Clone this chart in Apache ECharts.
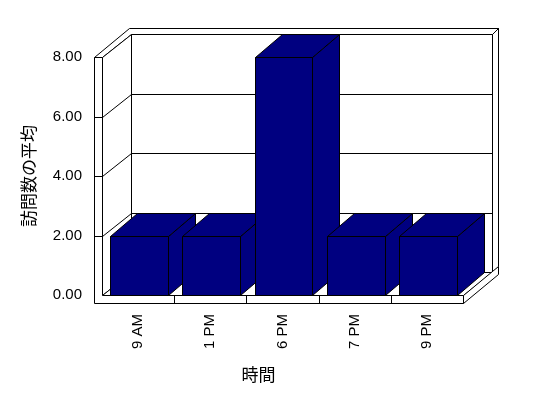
<!DOCTYPE html>
<html><head><meta charset="utf-8">
<script src="https://cdn.jsdelivr.net/npm/echarts@6/dist/echarts.min.js"></script>
<style>html,body{margin:0;padding:0;background:#fff}#c{width:548px;height:398px}</style>
</head><body><div id="c"></div>
<script>
const categories = ['9 AM', '1 PM', '6 PM', '7 PM', '9 PM'];
const visits = [2, 2, 8, 2, 2];
const yTicks = [0, 2, 4, 6, 8];
const xName = '時間';
const yName = '訪問数の平均';

const DX = 29, DY = -23;   // plot depth offset
const EX = 6, EY = -6;     // back wall thickness
const T = 8;               // left wall / floor thickness
const BDX = 27, BDY = -23; // bar depth
const BAR = '#000080';
const FONT = "'Liberation Sans', Arial, sans-serif";

function p(x, y) { return [Math.round(x) + 0.5, Math.round(y) + 0.5]; }
function poly(points, fill, z2) {
  return { type: 'polygon', shape: { points: points }, style: { fill: fill, stroke: '#000', lineWidth: 1 }, z2: z2 || 0 };
}
function line(points, z2) {
  return { type: 'polyline', shape: { points: points }, style: { fill: null, stroke: '#000', lineWidth: 1 }, z2: z2 || 0 };
}

function renderFrame(params, api) {
  const cs = params.coordSys;
  const x0 = cs.x, x1 = cs.x + cs.width, yT = cs.y, yB = cs.y + cs.height;
  const kids = [];
  // back wall front face
  kids.push(poly([p(x0 + DX, yT + DY), p(x1 + DX, yT + DY), p(x1 + DX, yB + DY), p(x0 + DX, yB + DY)], '#fff', 1));
  // top L (left wall top + back wall top)
  kids.push(poly([p(x0 - T, yT), p(x0, yT), p(x0 + DX, yT + DY), p(x1 + DX, yT + DY),
                  p(x1 + DX + EX, yT + DY + EY), p(x0 - T + DX + EX, yT + DY + EY)], '#fff', 2));
  kids.push(line([p(x1 + DX, yT + DY), p(x1 + DX + EX, yT + DY + EY)], 3));
  // back wall right face
  kids.push(poly([p(x1 + DX, yT + DY), p(x1 + DX + EX, yT + DY + EY), p(x1 + DX + EX, yB + DY + EY), p(x1 + DX, yB + DY)], '#fff', 2));
  // left wall inner face
  kids.push(poly([p(x0, yT), p(x0 + DX, yT + DY), p(x0 + DX, yB + DY), p(x0, yB)], '#fff', 2));
  // floor top
  kids.push(poly([p(x0, yB), p(x1, yB), p(x1 + DX, yB + DY), p(x0 + DX, yB + DY)], '#fff', 2));
  // floor right face
  kids.push(poly([p(x1, yB), p(x1 + DX + EX, yB + DY + EY), p(x1 + DX + EX, yB + DY + EY + T), p(x1, yB + T)], '#fff', 3));
  // front L (left wall front + floor front)
  kids.push(poly([p(x0 - T, yT), p(x0, yT), p(x0, yB), p(x1, yB), p(x1, yB + T), p(x0 - T, yB + T)], '#fff', 3));
  // gridlines
  yTicks.forEach(function (v) {
    if (v === yTicks[0] || v === yTicks[yTicks.length - 1]) return;
    const y = api.coord([0, v])[1];
    kids.push(line([p(x0 - T, y), p(x0, y), p(x0 + DX, y + DY), p(x1 + DX, y + DY)], 4));
  });
  // category dividers on floor front
  const bw = api.size([1, 0])[0];
  for (let i = 1; i < categories.length; i++) {
    const x = api.coord([i, 0])[0] - bw / 2;
    kids.push(line([p(x, yB), p(x, yB + T)], 4));
  }
  return { type: 'group', children: kids };
}

function renderBar(params, api) {
  const c = api.coord([api.value(0), api.value(1)]);
  const base = api.coord([api.value(0), 0]);
  const w = api.size([1, 0])[0] * 0.8;
  const l = c[0] - w / 2 + 1, r = l + w, t = c[1], b = base[1];
  const z = params.dataIndex * 3;
  return {
    type: 'group',
    children: [
      poly([p(r, b), p(r, t), p(r + BDX, t + BDY), p(r + BDX, b + BDY)], BAR, z + 1),
      poly([p(l, t), p(l + BDX, t + BDY), p(r + BDX, t + BDY), p(r, t)], BAR, z + 2),
      poly([p(l, t), p(r, t), p(r, b), p(l, b)], BAR, z + 3)
    ]
  };
}

const chart = echarts.init(document.getElementById('c'), null, { renderer: 'canvas' });
chart.setOption({
  backgroundColor: '#fff',
  animation: false,
  grid: { left: 102, top: 57, width: 361, height: 238, containLabel: false },
  xAxis: {
    type: 'category', data: categories,
    axisLine: { show: false }, axisTick: { show: false }, splitLine: { show: false },
    axisLabel: { rotate: 90, margin: 19, color: '#000', fontSize: 15, fontFamily: FONT },
    name: xName, nameLocation: 'middle', nameGap: 71,
    nameTextStyle: { color: '#000', fontSize: 17, fontFamily: "'Noto Sans CJK JP', sans-serif", padding: [0, 48, 0, 0] }
  },
  yAxis: {
    type: 'value', min: 0, max: 8, interval: 2,
    axisLine: { show: false }, axisTick: { show: false }, splitLine: { show: false },
    axisLabel: { margin: 20, color: '#000', fontSize: 15, fontFamily: FONT, formatter: function (v) { return v.toFixed(2); } },
    name: yName, nameLocation: 'middle', nameGap: 65,
    nameTextStyle: { color: '#000', fontSize: 17, fontFamily: "'Noto Sans CJK JP', sans-serif" }
  },
  series: [
    { type: 'custom', renderItem: renderFrame, data: [[0, 0]], z: 1, silent: true },
    { type: 'custom', renderItem: renderBar, data: visits.map(function (v, i) { return [i, v]; }),
      encode: { x: 0, y: 1 }, z: 2, silent: true }
  ]
});
</script></body></html>
